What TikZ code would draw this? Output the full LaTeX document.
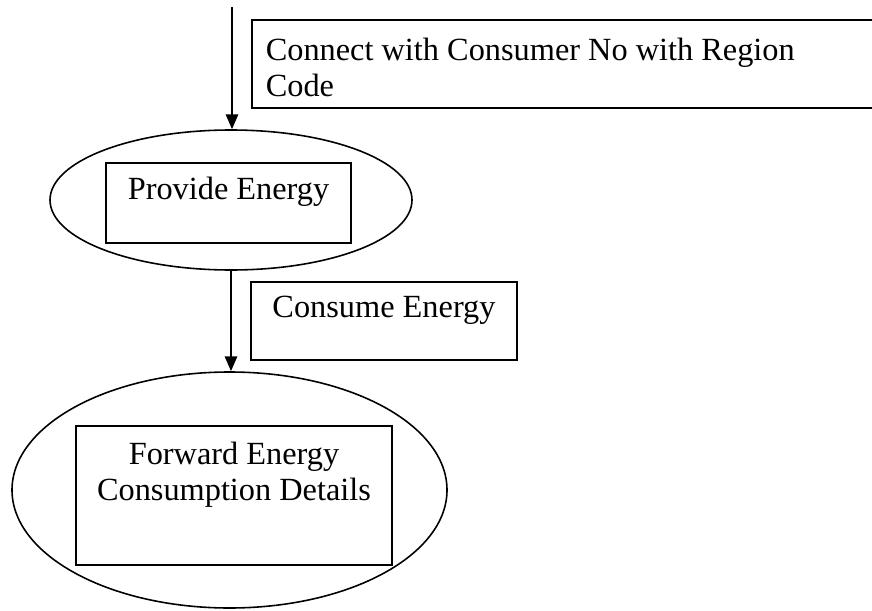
\documentclass[tikz,border=0pt]{standalone}
\usepackage{fontspec}
\setmainfont{Liberation Serif}
\usetikzlibrary{shapes.geometric, positioning, arrows.meta}

\begin{document}
\begin{tikzpicture}[>={Triangle[length=8.5pt,width=7pt]}, line width=0.9pt,
          every node/.style={font=\fontsize{18.4}{20.8}\selectfont},
          process/.style={draw, ellipse, inner sep=0pt},
          textbox/.style={draw, rectangle, inner sep=0pt},
          caption/.style={inner sep=0pt},
          flow/.style={->, line width=1.3pt}
        ]
        \useasboundingbox (0,0) rectangle (17.44,12.2);

        \coordinate (start) at (4.64,12.06);
        \node[process, minimum width=7.24cm, minimum height=2.8cm] (provide) at (4.62,8.2) {};
        \node[textbox, minimum width=4.9cm, minimum height=1.6cm]  (providebox) at (4.57,8.14) {};
        \node[caption] (providetxt) at (4.57,8.37) {Provide Energy};

        \node[process, minimum width=8.7cm, minimum height=4.72cm] (forward) at (4.59,2.4) {};
        \node[textbox, minimum width=6.32cm, minimum height=2.78cm] (forwardbox) at (4.68,2.29) {};
        \node[caption, align=center] (forwardtxt) at (4.68,2.71) {Forward Energy\\Consumption Details};

        % labels on the flows
        \node[textbox, anchor=north west, minimum width=13cm, minimum height=1.76cm] (linkbox) at (5.02,11.82) {};
        \node[caption, align=left, anchor=west] (linktxt) at (5.3,10.85) {Connect with Consumer No with Region\\Code};
        \node[textbox, minimum width=5.32cm, minimum height=1.56cm] (consumebox) at (7.68,5.78) {};
        \node[caption] (consumetxt) at (7.68,6.0) {Consume Energy};

        % arrows
        \draw[flow] (start) -- (start |- provide.north);
        \draw[flow] (provide.south) -- (provide.south |- forward.north);
      \end{tikzpicture}
\end{document}
